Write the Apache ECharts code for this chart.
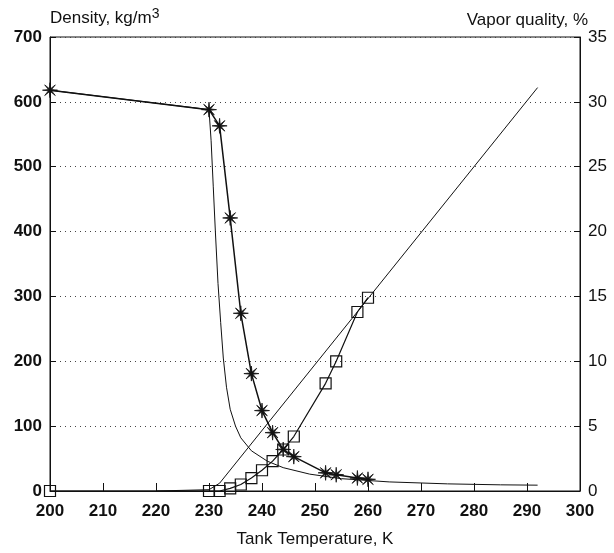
<!DOCTYPE html>
<html>
<head>
<meta charset="utf-8">
<script src="https://cdn.jsdelivr.net/npm/echarts@6/dist/echarts.min.js"></script>
<style>html,body{margin:0;padding:0;background:#fff;}#c{width:614px;height:553px;}</style>
</head>
<body>
<div id="c"></div>
<script>
// Density measurements (asterisks), kg/m3
const starT   = [200, 230, 232, 234, 236, 238, 240, 242, 244, 246, 252, 254, 258, 260];
const starRho = [618, 588, 563, 421, 274, 181, 124, 90, 64, 53, 28, 25, 20, 18];
// Density, continuous curve
const curveT   = [200, 230, 230.4, 230.8, 231.2, 231.7, 232.2, 232.7, 233.3, 234, 235, 236, 238, 241, 244, 249, 255, 264, 275, 285, 292];
const curveRho = [618, 588, 540, 470, 400, 320, 260, 205, 160, 126, 100, 82, 62, 46, 36, 26, 19, 14, 11, 9.5, 9];
// Vapor quality measurements (squares), %
const sqT = [200, 230, 232, 234, 236, 238, 240, 242, 244, 246, 252, 254, 258, 260];
const sqQ = [0, 0, 0, 0.2, 0.5, 1.0, 1.6, 2.3, 3.2, 4.2, 8.3, 10.0, 13.8, 14.9];
// Vapor quality, straight line
const lineT = [220, 230, 232, 292];
const lineQ = [0, 0.1, 0.6, 31.1];
// Axis ticks
const xTicks = [200, 210, 220, 230, 240, 250, 260, 270, 280, 290, 300];
const rhoTicks = [0, 100, 200, 300, 400, 500, 600, 700];
const qTicks = [0, 5, 10, 15, 20, 25, 30, 35];

const zip = (a, b) => a.map((v, i) => [v, b[i]]);

// asterisk symbol
let p = [];
for (let i = 0; i < 16; i++) {
  const a = i * Math.PI / 8 - Math.PI / 2;
  const r = i % 2 === 0 ? 10 : 2.2;
  p.push((i ? 'L' : 'M') + (r * Math.cos(a)).toFixed(2) + ' ' + (r * Math.sin(a)).toFixed(2));
}
const asterisk = 'path://' + p.join(' ') + 'Z';

const FONT = 'Liberation Sans';
const INK = '#111';
const tickLabel = {fontFamily: FONT, fontSize: 17, fontWeight: 'bold', color: INK};
const chart = echarts.init(document.getElementById('c'), null, {renderer: 'canvas'});
chart.setOption({
  animation: false,
  backgroundColor: '#fff',
  textStyle: {fontFamily: FONT},
  grid: {left: 50, right: 34, top: 37, bottom: 61, show: true, borderColor: INK, borderWidth: 1},
  xAxis: {
    type: 'value', min: xTicks[0], max: xTicks[xTicks.length - 1], interval: 10,
    name: 'Tank Temperature, K', nameLocation: 'middle', nameGap: 40,
    nameTextStyle: {fontFamily: FONT, fontSize: 17, color: INK},
    axisLine: {lineStyle: {color: INK, width: 1}},
    axisTick: {inside: true, length: 8, lineStyle: {color: INK}},
    axisLabel: Object.assign({margin: 12}, tickLabel),
    splitLine: {show: false}
  },
  yAxis: [{
    type: 'value', min: rhoTicks[0], max: rhoTicks[rhoTicks.length - 1], interval: 100,
    name: 'Density, kg/m{sup|3}', nameLocation: 'end', nameGap: 8,
    nameTextStyle: {fontFamily: FONT, fontSize: 17, color: INK, align: 'left',
      rich: {sup: {fontFamily: FONT, fontSize: 14, color: INK, verticalAlign: 'top', padding: [0, 0, 8, 0]}}},
    axisLine: {show: true, lineStyle: {color: INK, width: 1}},
    axisTick: {show: true, inside: true, length: 6, lineStyle: {color: INK}},
    axisLabel: Object.assign({margin: 8}, tickLabel),
    splitLine: {show: true, lineStyle: {color: '#444', width: 1, type: [1, 4]}}
  }, {
    type: 'value', min: qTicks[0], max: qTicks[qTicks.length - 1], interval: 5, position: 'right',
    name: 'Vapor quality, %', nameLocation: 'end', nameGap: 8,
    nameTextStyle: {fontFamily: FONT, fontSize: 17, color: INK, align: 'right', padding: [0, -8, 0, 0]},
    axisLine: {show: true, lineStyle: {color: INK, width: 1}},
    axisTick: {show: true, inside: true, length: 6, lineStyle: {color: INK}},
    axisLabel: {fontFamily: FONT, fontSize: 17, color: INK, margin: 8},
    splitLine: {show: false}
  }],
  series: [{
    type: 'line', name: 'Density curve', data: zip(curveT, curveRho), symbol: 'none',
    lineStyle: {color: INK, width: 1}
  }, {
    type: 'line', name: 'Vapor line', yAxisIndex: 1, data: zip(lineT, lineQ), symbol: 'none',
    lineStyle: {color: INK, width: 1}
  }, {
    type: 'line', name: 'Density', data: zip(starT, starRho), symbol: asterisk, symbolSize: 15,
    showAllSymbol: true,
    itemStyle: {color: INK, borderColor: INK, borderWidth: 0.8},
    lineStyle: {color: INK, width: 1.5}
  }, {
    type: 'line', name: 'Vapor quality', yAxisIndex: 1, data: zip(sqT, sqQ), symbol: 'rect', symbolSize: 11,
    showAllSymbol: true,
    itemStyle: {color: 'rgba(255,255,255,0)', borderColor: INK, borderWidth: 1.2},
    lineStyle: {color: INK, width: 1.2}
  }]
});
</script>
</body>
</html>
